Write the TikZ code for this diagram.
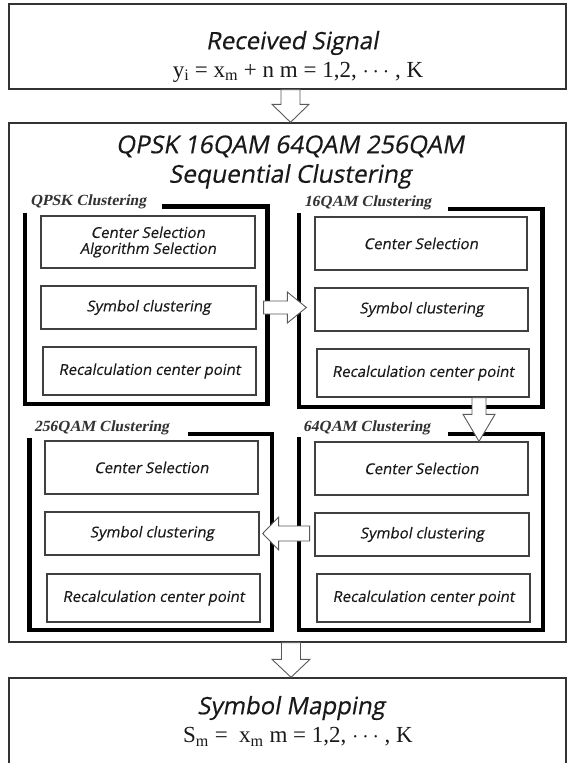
\documentclass[tikz,border=0pt]{standalone}
\usepackage{fix-cm}
\usepackage{fontspec}
\newfontfamily\stepfont[FakeSlant=0.18, FakeBold=0.5]{Open Sans}
\newfontfamily\groupfont[FakeSlant=0.2]{Liberation Serif}
\newfontfamily\formfont{Liberation Serif}
\usetikzlibrary{calc}

\tikzset{
  panel/.style={draw=black!80, line width=1.4pt, inner sep=0pt},
  stepbox/.style={draw=black!75, line width=1.3pt, inner sep=0pt, align=center,
    font=\stepfont\fontsize{15}{18}\selectfont, text=black!90},
  grouplbl/.style={anchor=west, inner sep=0pt,
    font=\groupfont\bfseries\fontsize{15.5}{18}\selectfont, text=black!80},
  headtext/.style={inner sep=0pt, align=center, text=black!90},
  groupframe/.style={line width=4.5pt, black, line join=miter},
  blockarr/.style={draw=black!65, line width=0.9pt, fill=white, line join=miter},
}

% vertical block arrow: tail, tip, shaft half width, head half width, head length
\newcommand\vblock[5]{\draw[blockarr] let \p1=(#1),\p2=(#2) in
  ({\x2-#3pt},\y1) -- ({\x2-#3pt},{\y2+#5pt}) -- ({\x2-#4pt},{\y2+#5pt}) -- (\p2)
  -- ({\x2+#4pt},{\y2+#5pt}) -- ({\x2+#3pt},{\y2+#5pt}) -- ({\x2+#3pt},\y1) -- cycle;}
% horizontal block arrow: tail, tip, shaft half width, head half width, signed head length
\newcommand\hblock[5]{\draw[blockarr] let \p1=(#1),\p2=(#2) in
  (\x1,{\y2-#3pt}) -- ({\x2-(#5pt)},{\y2-#3pt}) -- ({\x2-(#5pt)},{\y2-#4pt}) -- (\p2)
  -- ({\x2-(#5pt)},{\y2+#4pt}) -- ({\x2-(#5pt)},{\y2+#3pt}) -- (\x1,{\y2+#3pt}) -- cycle;}

\begin{document}
\begin{tikzpicture}[x=1pt,y=-1pt]
\useasboundingbox (0,0) rectangle (567,763);
\clip (0,0) rectangle (567,763);

% outer panels
\node[panel, minimum width=557, minimum height=85] (recv) at (287.5,46.5) {};
\node[panel, minimum width=557, minimum height=519] (seq) at (287.5,382.5) {};
\node[panel, minimum width=557, minimum height=100] (map) at (287.5,728) {};

% panel texts
\node[headtext] (recvt) at (292,43) {\stepfont\fontsize{24}{26}\selectfont Received Signal};
\node[headtext] (recvf) at (298,72) {\formfont\fontsize{23}{26}\selectfont
  y\textsubscript{i} = x\textsubscript{m} + n m = 1,2, $\cdots$ , K};
\node[headtext, font=\stepfont\fontsize{24.5}{29.5}\selectfont] (seqt) at (290,162)
  {QPSK 16QAM 64QAM 256QAM\\Sequential Clustering};
\node[headtext] (mapt) at (291,708) {\stepfont\fontsize{24}{26}\selectfont Symbol Mapping};
\node[headtext] (mapf) at (298,737) {\formfont\fontsize{23}{26}\selectfont
  S\textsubscript{m} = \ x\textsubscript{m} m = 1,2, $\cdots$ , K};

% QPSK clustering
\node[grouplbl] (qlab) at (30,202) {QPSK Clustering};
\draw[groupframe] (162,206.5) -- (267.5,206.5) -- (267.5,404) -- (25,404) -- (25,213);
\node[stepbox, minimum width=214, minimum height=52] (qcs) at (148,242)
  {Center Selection\\[-2pt]Algorithm Selection};
\node[stepbox, minimum width=215, minimum height=43] (qsc) at (148.5,307.5) {Symbol clustering};
\node[stepbox, minimum width=213, minimum height=48] (qrc) at (149.5,371) {Recalculation center point};

% 16QAM clustering
\node[grouplbl] (hlab) at (304,203) {16QAM Clustering};
\draw[groupframe] (448,209) -- (542.5,209) -- (542.5,407) -- (299,407) -- (299,213);
\node[stepbox, minimum width=212, minimum height=53] (hcs) at (421,243.5) {Center Selection};
\node[stepbox, minimum width=213, minimum height=43] (hsc) at (421.5,309.5) {Symbol clustering};
\node[stepbox, minimum width=212, minimum height=48] (hrc) at (423,373) {Recalculation center point};

% 256QAM clustering
\node[grouplbl] (tlab) at (34,428) {256QAM Clustering};
\draw[groupframe] (188,434) -- (272,434) -- (272,630) -- (29.5,630) -- (29.5,438);
\node[stepbox, minimum width=213, minimum height=53] (tcs) at (151.5,467.5) {Center Selection};
\node[stepbox, minimum width=214, minimum height=43] (tsc) at (152,533.5) {Symbol clustering};
\node[stepbox, minimum width=213, minimum height=48] (trc) at (153.5,598) {Recalculation center point};

% 64QAM clustering
\node[grouplbl] (slab) at (303,428) {64QAM Clustering};
\draw[groupframe] (448,434) -- (543,434) -- (543,630) -- (299,630) -- (299,437);
\node[stepbox, minimum width=213, minimum height=53] (scs) at (421.5,468.5) {Center Selection};
\node[stepbox, minimum width=214, minimum height=43] (ssc) at (422,534.5) {Symbol clustering};
\node[stepbox, minimum width=213, minimum height=48] (src) at (423.5,598) {Recalculation center point};

% flow arrows
\coordinate (midx) at (479,0);
\vblock{$(recv.south)+(3,0)$}{$(seq.north)+(3,0)$}{9.5}{18.5}{18}
\hblock{$(qsc.east)+(7,0)$}{$(hsc.west)+(-8,-2)$}{6.5}{15.5}{19}
\vblock{hrc.south -| midx}{scs.north -| midx}{7}{16}{27}
\hblock{$(tsc.east)+(50,0)$}{$(tsc.east)+(3,0)$}{7.5}{16.5}{-16}
\vblock{$(seq.south)+(3.5,0)$}{$(map.north)+(3.5,0)$}{9.5}{19}{18}
\end{tikzpicture}
\end{document}
